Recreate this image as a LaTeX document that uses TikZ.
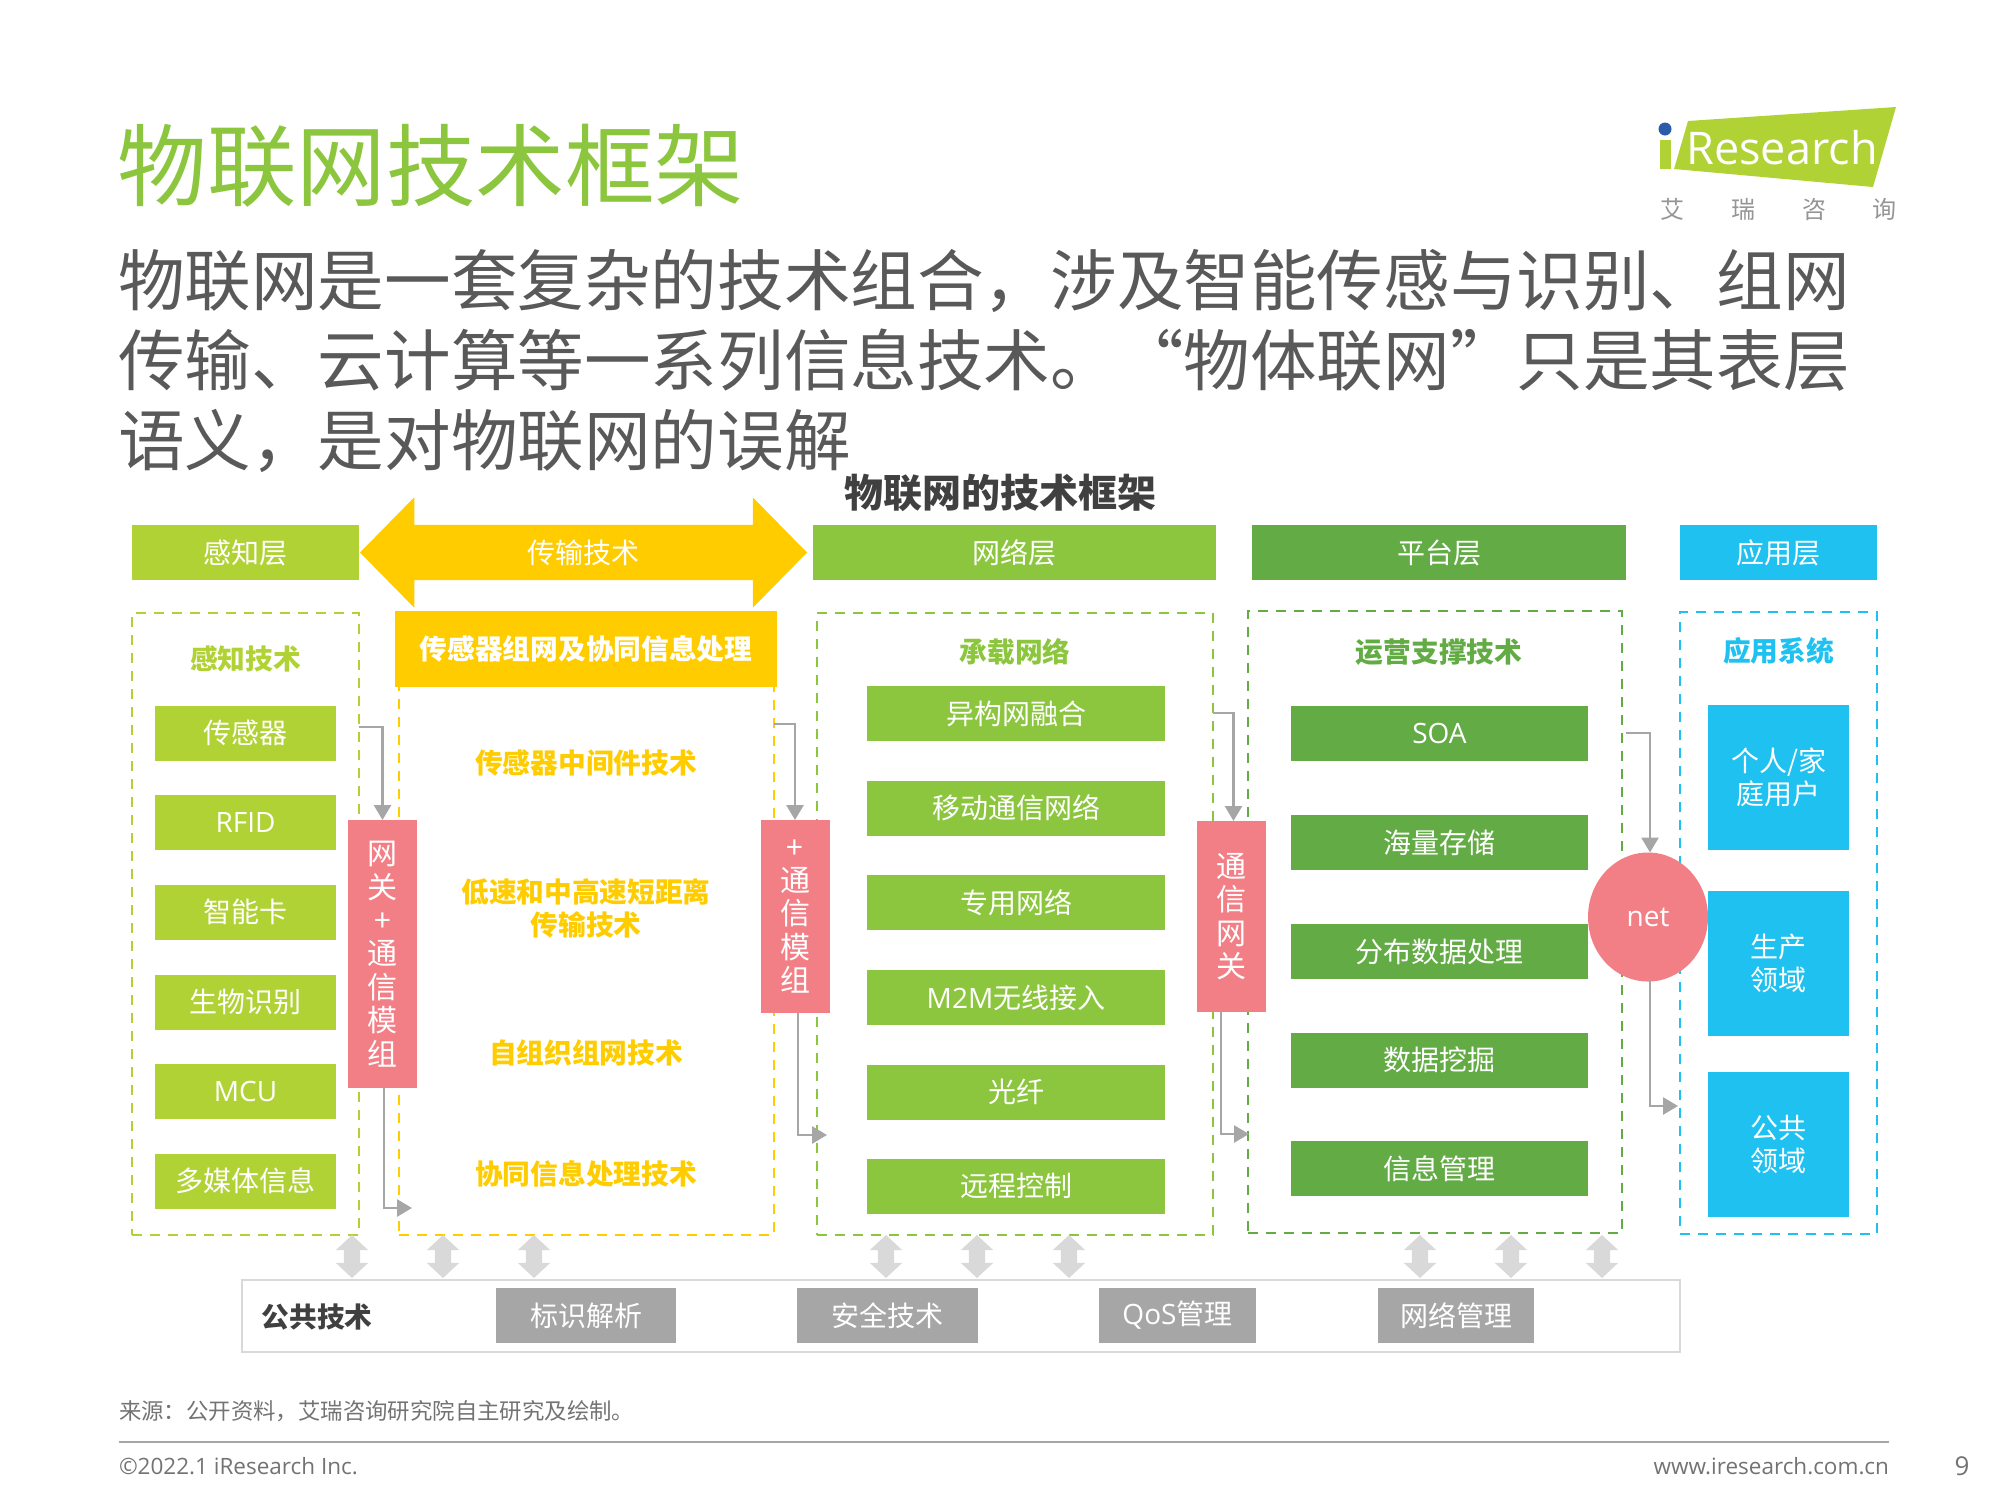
\documentclass[tikz,border=0pt]{standalone}
\usepackage{fontspec}
\setmainfont{Noto Sans CJK SC}
\newfontfamily\latinfont{Open Sans}
\usetikzlibrary{arrows.meta,positioning,calc,shapes.geometric,shapes.arrows}
\definecolor{leafS}{HTML}{B1D235}
\definecolor{leafN}{HTML}{8CC63E}
\definecolor{leafP}{HTML}{63AB45}
\definecolor{skyA}{HTML}{1FC1F0}
\definecolor{sunT}{HTML}{FFCC00}
\definecolor{roseG}{HTML}{F37F86}
\definecolor{greyL}{HTML}{D9D9D9}
\definecolor{greyM}{HTML}{A6A6A6}
\definecolor{greyD}{HTML}{595959}
\definecolor{dotB}{HTML}{2A5CAA}
\newcommand{\fs}[2]{\fontsize{#1}{#2}\selectfont}
\begin{document}
\begin{tikzpicture}[
  x=1pt,y=-1pt,
  every node/.style={inner sep=0pt,outer sep=0pt,font=\fs{28}{33}},
  head/.style={minimum height=55pt,text=white,align=center},
  itemS/.style={fill=leafS,text=white,minimum width=181pt,minimum height=55pt},
  itemN/.style={fill=leafN,text=white,minimum width=298pt,minimum height=55pt},
  itemP/.style={fill=leafP,text=white,minimum width=297pt,minimum height=55pt},
  itemA/.style={fill=skyA,text=white,minimum width=141pt,minimum height=145pt,align=center},
  itemC/.style={fill=greyM,text=white,minimum height=55pt},
  frame/.style={draw,line width=2.8pt,dash pattern=on 10pt off 8pt},
  gate/.style={fill=roseG,text=white,minimum width=69pt,align=center,font=\fs{30}{33.4}},
  tech/.style={text=sunT,font=\fs{27.7}{33}\bfseries,align=center},
  caption/.style={font=\fs{27.7}{33}\bfseries},
  flow/.style={draw=greyM,line width=2.8pt,-{Triangle[length=15pt,width=17pt]}},
  swap/.style={double arrow,fill=greyL,shape border rotate=90,inner sep=8pt,minimum height=43pt,
               double arrow head extend=8pt,double arrow tip angle=94}
]
\useasboundingbox (0,0) rectangle (2000,1500);

\node[font=\fs{89.5}{100},text=leafN,anchor=west] (title) at (117.5,166) {物联网技术框架};
\node[font=\fs{66.6}{80},text=greyD,anchor=north west,align=left] (lead) at (118,249)
  {物联网是一套复杂的技术组合，涉及智能传感与识别、组网\\
   传输、云计算等一系列信息技术。“物体联网”只是其表层\\
   语义，是对物联网的误解};
\node[font=\fs{39}{44}\bfseries,text=black!75] (chart) at (1000,493) {物联网的技术框架};

\fill[leafS] (1688,121) -- (1896,107) -- (1873,187) -- (1674,169) -- cycle;
\fill[leafS] (1660,140) rectangle (1671,169);
\node[circle,fill=dotB,minimum size=13pt] (dot) at (1665,129) {};
\node[font=\fs{45}{48}\latinfont,text=white] (brand) at (1782,148) {Research};
\node[font=\fs{24}{28},text=greyM!90!black] (ai) at (1672,209) {艾};
\node[font=\fs{24}{28},text=greyM!90!black] (rui) at (1743,209) {瑞};
\node[font=\fs{24}{28},text=greyM!90!black] (zi) at (1814,209) {咨};
\node[font=\fs{24}{28},text=greyM!90!black] (xun) at (1884,209) {询};

\node[head,fill=leafS,minimum width=227pt] (hS) at (245.5,552.5) {感知层};
\node[double arrow,fill=sunT,text=white,text height=24pt,text depth=2pt,inner ysep=14.5pt,
      minimum height=447pt,double arrow head extend=27.5pt,double arrow tip angle=91] (hT) at (583.5,552.5) {传输技术};
\node[head,fill=leafN,minimum width=403pt] (hN) at (1014.5,552.5) {网络层};
\node[head,fill=leafP,minimum width=374pt] (hP) at (1439,552.5) {平台层};
\node[head,fill=skyA,minimum width=197pt] (hA) at (1778.5,552.5) {应用层};

\node[frame,draw=leafS,minimum width=227pt,minimum height=622pt] (fS) at (245.5,924) {};
\node[frame,draw=sunT,minimum width=375pt,minimum height=622pt] (fT) at (586.5,924) {};
\node[frame,draw=leafN,minimum width=396pt,minimum height=622pt] (fN) at (1015,924) {};
\node[frame,draw=leafP,minimum width=374pt,minimum height=622pt] (fP) at (1435,922) {};
\node[frame,draw=skyA,minimum width=197pt,minimum height=622pt] (fA) at (1778.5,923) {};

\node[caption,text=leafS] (cS) at (245.5,659) {感知技术};
\node[itemS] (s1) at (245.5,733) {传感器};
\node[itemS] (s2) at (245.5,822) {\latinfont RFID};
\node[itemS] (s3) at (245.5,912) {智能卡};
\node[itemS] (s4) at (245.5,1002) {生物识别};
\node[itemS] (s5) at (245.5,1091) {\latinfont MCU};
\node[itemS] (s6) at (245.5,1181) {多媒体信息};

\node[fill=sunT,text=white,minimum width=382pt,minimum height=76pt,font=\fs{27.7}{33}\bfseries] (cT) at (586,649) {传感器组网及协同信息处理};
\node[tech] (t1) at (586,763) {传感器中间件技术};
\node[tech] (t2) at (586,908) {低速和中高速短距离\\传输技术};
\node[tech] (t3) at (586,1053) {自组织组网技术};
\node[tech] (t4) at (586,1174) {协同信息处理技术};

\node[caption,text=leafN] (cN) at (1015,652) {承载网络};
\node[itemN] (n1) at (1016,713.5) {异构网融合};
\node[itemN] (n2) at (1016,808) {移动通信网络};
\node[itemN] (n3) at (1016,902.5) {专用网络};
\node[itemN] (n4) at (1016,997.5) {{\latinfont M2M}无线接入};
\node[itemN] (n5) at (1016,1092) {光纤};
\node[itemN] (n6) at (1016,1186) {远程控制};

\node[caption,text=leafP] (cP) at (1439,652) {运营支撑技术};
\node[itemP] (p1) at (1439.5,733) {\latinfont SOA};
\node[itemP] (p2) at (1439.5,842.5) {海量存储};
\node[itemP] (p3) at (1439.5,951.5) {分布数据处理};
\node[itemP] (p4) at (1439.5,1060) {数据挖掘};
\node[itemP] (p5) at (1439.5,1168.5) {信息管理};

\node[caption,text=skyA] (cA) at (1778.5,651) {应用系统};
\node[itemA] (a1) at (1778.5,777.5) {个人/家\\庭用户};
\node[itemA] (a2) at (1778.5,963.5) {生产\\领域};
\node[itemA] (a3) at (1778.5,1144.5) {公共\\领域};

\node[gate,minimum height=268pt] (g1) at (382.5,954) {网\\关\\+\\通\\信\\模\\组};
\node[gate,minimum height=193pt] (g2) at (795,916.5) {+\\通\\信\\模\\组};
\node[gate,minimum height=191pt] (g3) at (1231.5,916.5) {通\\信\\网\\关};
\node[ellipse,fill=roseG,text=white,minimum width=120pt,minimum height=129pt,font=\fs{28}{33}\latinfont] (net) at (1648,917) {net};

\coordinate (o1) at (359,727);
\coordinate (o2) at (412,1208);
\coordinate (o3) at (774,724);
\coordinate (o4) at (827,1135);
\coordinate (o5) at (1213,713);
\coordinate (o6) at (1249,1134);
\coordinate (o7) at (1626,733);
\coordinate (o8) at (1678,1106);
\draw[flow] (o1) -| (g1.north);
\draw[flow] ([xshift=1.5pt]g1.south) |- (o2);
\draw[flow] (o3) -| (g2.north);
\draw[flow] ([xshift=3pt]g2.south) |- (o4);
\draw[flow] (o5) -| ([xshift=2pt]g3.north);
\draw[flow] ([xshift=-10.5pt]g3.south) |- (o6);
\draw[flow] (o7) -| ([xshift=2pt]net.north);
\draw[flow] ([xshift=2pt,yshift=3pt]net.south) |- (o8);

\node[draw=greyL,line width=1.6pt,minimum width=1438pt,minimum height=72pt] (bar) at (961,1316) {};
\node[caption,text=black!75] (cC) at (317,1317) {公共技术};
\node[itemC,minimum width=180pt] (c1) at (586,1315.5) {标识解析};
\node[itemC,minimum width=181pt] (c2) at (887.5,1315.5) {安全技术};
\node[itemC,minimum width=157pt] (c3) at (1177.5,1315.5) {{\latinfont QoS}管理};
\node[itemC,minimum width=156pt] (c4) at (1456,1315.5) {网络管理};

\node[swap] (d1) at (352,1256.5) {};
\node[swap] (d2) at (443,1256.5) {};
\node[swap] (d3) at (534,1256.5) {};
\node[swap] (d4) at (886,1256.5) {};
\node[swap] (d5) at (977,1256.5) {};
\node[swap] (d6) at (1069,1256.5) {};
\node[swap] (d7) at (1420,1256.5) {};
\node[swap] (d8) at (1511,1256.5) {};
\node[swap] (d9) at (1602,1256.5) {};

\node[font=\fs{22.4}{26},text=black!55,anchor=west] (src) at (119,1411) {来源：公开资料，艾瑞咨询研究院自主研究及绘制。};
\coordinate (r1) at (119,1442);
\coordinate (r2) at (1889,1442);
\draw[greyM,line width=2.4pt] (r1) -- (r2);
\node[font=\fs{22.5}{28}\latinfont,text=black!55,anchor=west] (copy) at (119,1466) {©2022.1 iResearch Inc.};
\node[font=\fs{22.5}{28}\latinfont,text=black!55,anchor=east] (web) at (1889,1466) {www.iresearch.com.cn};
\node[font=\fs{26}{30}\latinfont,text=black!55] (page) at (1962,1466) {9};
\end{tikzpicture}
\end{document}
